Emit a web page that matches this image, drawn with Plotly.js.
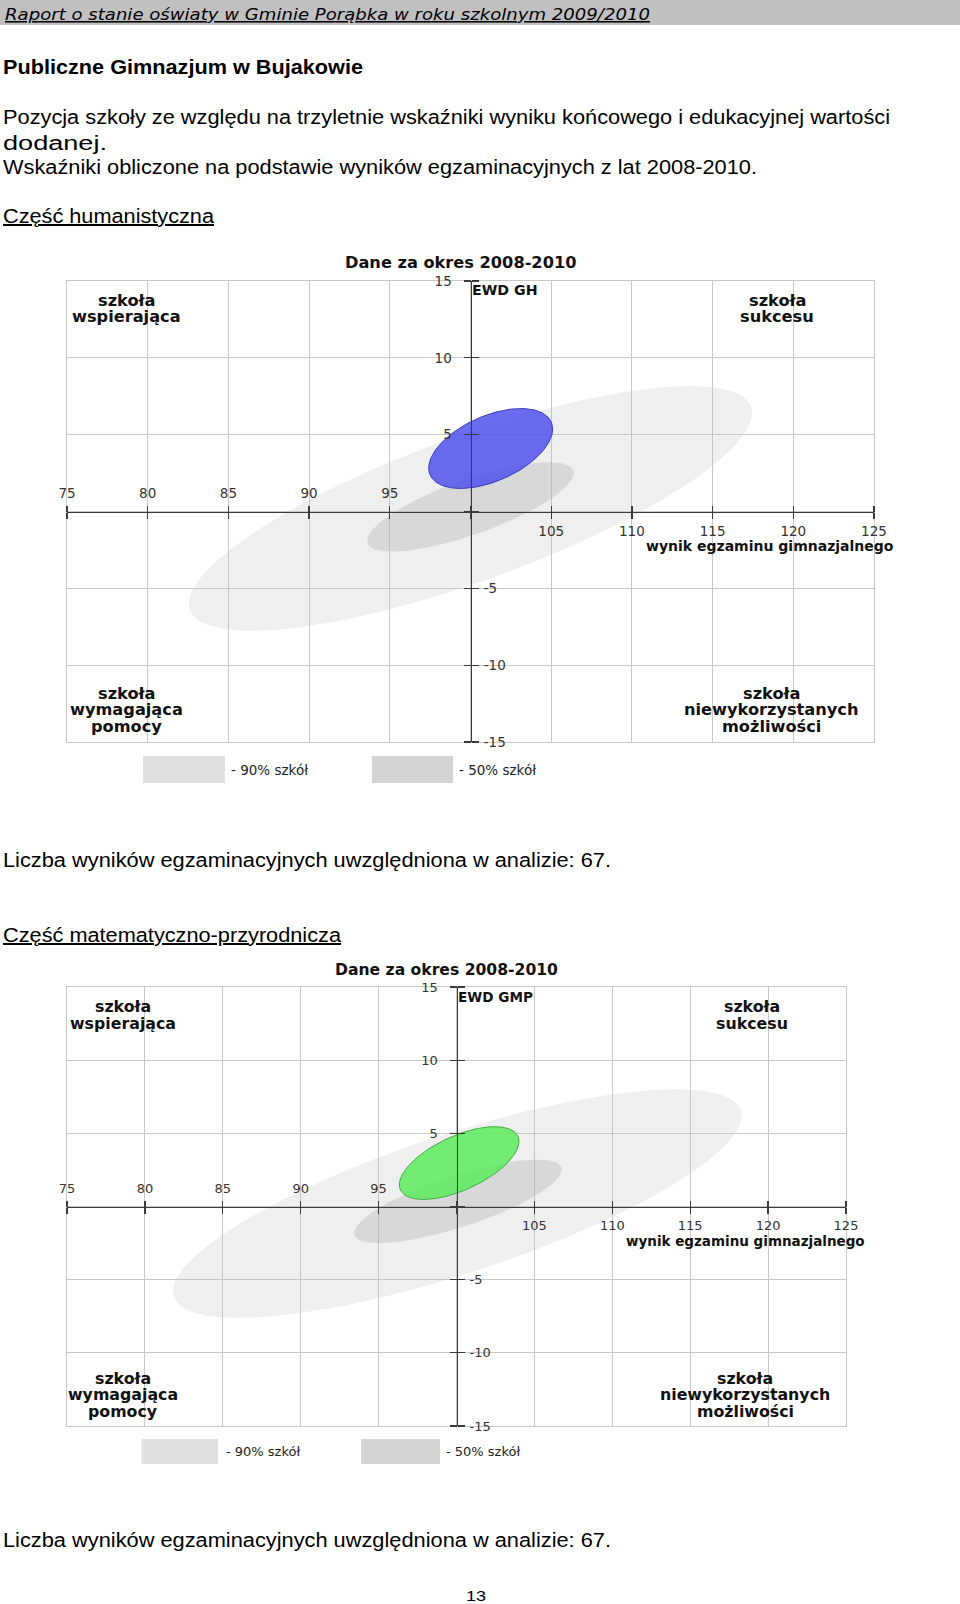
<!DOCTYPE html>
<html>
<head>
<meta charset="utf-8">
<script src="https://cdn.plot.ly/plotly-3.0.1.min.js"></script>
<style>
html,body{margin:0;padding:0;background:#fff;}
#page{position:relative;width:960px;height:1604px;overflow:hidden;background:#fff;}
#bg{position:absolute;left:0;top:0;}
.chart{position:absolute;left:0;width:960px;}
</style>
</head>
<body>
<div id="page">
<svg id="bg" width="960" height="1604" xmlns="http://www.w3.org/2000/svg">
  <rect x="0" y="0" width="960" height="25" fill="#c0c0c0"/>
  <text x="5" y="20" font-family="DejaVu Sans" font-style="italic" font-size="15.5" fill="#000" textLength="645" lengthAdjust="spacingAndGlyphs" text-decoration="underline">Raport o stanie oświaty w Gminie Porąbka w roku szkolnym 2009/2010</text>
  <g font-family="Liberation Sans, Arial, sans-serif" font-size="20" fill="#000">
    <text x="3" y="74" font-weight="bold" textLength="360" lengthAdjust="spacingAndGlyphs">Publiczne Gimnazjum w Bujakowie</text>
    <text x="3" y="124" textLength="887" lengthAdjust="spacingAndGlyphs">Pozycja szkoły ze względu na trzyletnie wskaźniki wyniku końcowego i edukacyjnej wartości</text>
    <text x="3" y="150" textLength="104" lengthAdjust="spacingAndGlyphs">dodanej.</text>
    <text x="3" y="174" textLength="754" lengthAdjust="spacingAndGlyphs">Wskaźniki obliczone na podstawie wyników egzaminacyjnych z lat 2008-2010.</text>
    <text x="3" y="223" textLength="211" lengthAdjust="spacingAndGlyphs" text-decoration="underline">Część humanistyczna</text>
    <text x="3" y="867" textLength="608" lengthAdjust="spacingAndGlyphs">Liczba wyników egzaminacyjnych uwzględniona w analizie: 67.</text>
    <text x="3" y="942" textLength="338" lengthAdjust="spacingAndGlyphs" text-decoration="underline">Część matematyczno-przyrodnicza</text>
    <text x="3" y="1547" textLength="608" lengthAdjust="spacingAndGlyphs">Liczba wyników egzaminacyjnych uwzględniona w analizie: 67.</text>
    <text x="466" y="1601" font-size="15" textLength="20" lengthAdjust="spacingAndGlyphs">13</text>
  </g>
</svg>
<div id="gh" class="chart" style="top:230px;height:580px"></div>
<div id="gmp" class="chart" style="top:940px;height:560px"></div>
</div>
<script>
// ---------- DATA ----------
const xTicks = [75, 80, 85, 90, 95, 100, 105, 110, 115, 120, 125];
const yTicks = [-15, -10, -5, 0, 5, 10, 15];
const xRange = [75, 125];
const yRange = [-15, 15];
const xCross = 100;   // "wynik egzaminu" value where the EWD axis stands
const yCross = 0;     // EWD value where the result axis lies

const chartTitle = 'Dane za okres 2008-2010';
const xAxisTitle = 'wynik egzaminu gimnazjalnego';
const ghAxisTitle = 'EWD GH';
const gmpAxisTitle = 'EWD GMP';

const quadTL = ['szkoła', 'wspierająca'];
const quadTR = ['szkoła', 'sukcesu'];
const quadBL = ['szkoła', 'wymagająca', 'pomocy'];
const quadBR = ['szkoła', 'niewykorzystanych', 'możliwości'];
const legendLabels = ['- 90% szkół', '- 50% szkół'];

// ellipses: [cx, cy, ux, uy, vx, vy]
// outline P(t) = C + U cos t + V sin t  (U, V conjugate semi-diameters, data units)
const gh90 = [100.0, 0.2, 17.45, 6.2, 0, 5.0];
const gh50 = [100.0, 0.3, 6.4, 2.2, 0, 1.9];
const ghSchool = [101.25, 4.1, 3.84, 1.27, 0, 2.27];
const gmp90 = [100.05, 0.2, 18.25, 6.0, 0, 5.0];
const gmp50 = [100.1, 0.35, 6.67, 2.17, 0, 1.85];
const gmpSchool = [100.17, 2.97, 3.84, 1.48, 0, 2.0];

// ---------- helpers ----------
function ellipsePts(p, n) {
  const xs = [], ys = [];
  for (let i = 0; i <= n; i++) {
    const t = 2 * Math.PI * i / n;
    xs.push(p[0] + p[2] * Math.cos(t) + p[4] * Math.sin(t));
    ys.push(p[1] + p[3] * Math.cos(t) + p[5] * Math.sin(t));
  }
  return {x: xs, y: ys};
}
function ellTrace(p, fill, line) {
  const e = ellipsePts(p, 180);
  return {type: 'scatter', mode: 'lines', x: e.x, y: e.y, fill: 'toself',
          fillcolor: fill, line: line, hoverinfo: 'skip', showlegend: false};
}
function ann(g, text, px, py, xanchor, yanchor, font) {
  return {text: text, xref: 'paper', yref: 'paper',
          x: (px - g.ml) / g.pw, y: (g.top + g.mt + g.ph - py) / g.ph,
          xanchor: xanchor, yanchor: yanchor, showarrow: false, font: font, align: 'center'};
}
function rectShape(g, x0, x1, y0, y1, color) {
  return {type: 'rect', xref: 'paper', yref: 'paper',
          x0: (x0 - g.ml) / g.pw, x1: (x1 - g.ml) / g.pw,
          y0: (g.top + g.mt + g.ph - y0) / g.ph, y1: (g.top + g.mt + g.ph - y1) / g.ph,
          fillcolor: color, line: {width: 0}};
}

function buildChart(divId, g, ells, colors, axisTitle) {
  const fs = g.fs;
  const tickFont = {family: 'DejaVu Sans', size: fs.tick, color: '#333'};
  const boldFont = (s) => ({family: 'DejaVu Sans', size: s, color: '#111', weight: 'bold'});
  const axisLine = '#3a3a3a';
  const ypos = (yCross - yRange[0]) / (yRange[1] - yRange[0]);
  const xpos = (xCross - xRange[0]) / (xRange[1] - xRange[0]);
  const leftTxt = xTicks.map(v => v < xCross ? String(v) : '');
  const rightTxt = xTicks.map(v => v > xCross ? String(v) : '');
  const upTxt = yTicks.map(v => v > yCross ? String(v) : '');
  const downTxt = yTicks.map(v => v < yCross ? String(v) : '');

  const traces = [
    ellTrace(ells[0], 'rgba(190,190,190,0.25)', {width: 0, color: 'rgba(0,0,0,0)'}),
    ellTrace(ells[1], 'rgba(170,170,170,0.33)', {width: 0, color: 'rgba(0,0,0,0)'}),
    ellTrace(ells[2], colors.fill, {width: 1, color: colors.line}),
    // empty traces that only bind the crossing axes (x2/y2, x3/y3) into subplots
    {type: 'scatter', mode: 'markers', x: [], y: [], xaxis: 'x2', yaxis: 'y2', hoverinfo: 'skip', showlegend: false},
    {type: 'scatter', mode: 'markers', x: [], y: [], xaxis: 'x3', yaxis: 'y3', hoverinfo: 'skip', showlegend: false}
  ];

  const base = {range: xRange, tickmode: 'array', fixedrange: true, zeroline: false};
  const freeX = Object.assign({}, base, {overlaying: 'x', anchor: 'free', position: ypos,
      tickvals: xTicks, ticks: 'outside', ticklen: 6, tickwidth: 1.3, tickcolor: axisLine,
      showline: true, linecolor: axisLine, linewidth: 1.5, showgrid: false, tickfont: tickFont});
  const freeY = {range: yRange, tickmode: 'array', fixedrange: true, zeroline: false,
      overlaying: 'y', anchor: 'free', position: xpos,
      tickvals: yTicks, ticks: 'outside', ticklen: 7, tickwidth: 1.3, tickcolor: axisLine,
      showline: true, linecolor: axisLine, linewidth: 1.5, showgrid: false, tickfont: tickFont};

  const annotations = [];
  annotations.push(ann(g, chartTitle, g.titleX, g.titleY, 'center', 'middle', boldFont(fs.title)));
  annotations.push(ann(g, axisTitle, g.axTitleX, g.axTitleY, 'left', 'middle', boldFont(fs.axis)));
  annotations.push(ann(g, xAxisTitle, g.xTitleRight, g.xTitleY, 'right', 'middle', boldFont(fs.xtitle)));
  const quads = [[quadTL, g.qTL], [quadTR, g.qTR], [quadBL, g.qBL], [quadBR, g.qBR]];
  quads.forEach(([lines, pos]) => {
    lines.forEach((t, i) => {
      annotations.push(ann(g, t, pos[0], pos[1] + i * g.qStep, 'center', 'middle', boldFont(fs.quad)));
    });
  });
  const shapes = [
    rectShape(g, g.leg[0][0], g.leg[0][1], g.legY[0], g.legY[1], '#e0e0e0'),
    rectShape(g, g.leg[1][0], g.leg[1][1], g.legY[0], g.legY[1], '#d4d4d4')
  ];
  legendLabels.forEach((t, i) => {
    annotations.push(ann(g, t, g.legText[i], (g.legY[0] + g.legY[1]) / 2, 'left', 'middle',
      {family: 'DejaVu Sans', size: fs.legend, color: '#222'}));
  });

  const layout = {
    width: 960, height: g.h,
    margin: {l: g.ml, r: 960 - g.ml - g.pw, t: g.mt, b: g.h - g.mt - g.ph, pad: 0},
    paper_bgcolor: 'rgba(0,0,0,0)', plot_bgcolor: '#ffffff',
    showlegend: false,
    xaxis: Object.assign({}, base, {tickvals: xTicks, showticklabels: false, ticks: '',
      showgrid: true, gridcolor: '#c8c8c8', gridwidth: 1, showline: true, linecolor: '#c8c8c8',
      linewidth: 1, mirror: true}),
    yaxis: {range: yRange, tickmode: 'array', tickvals: yTicks, fixedrange: true, zeroline: false,
      showticklabels: false, ticks: '', showgrid: true, gridcolor: '#c8c8c8', gridwidth: 1,
      showline: true, linecolor: '#c8c8c8', linewidth: 1, mirror: true},
    xaxis2: Object.assign({}, freeX, {side: 'top', ticktext: leftTxt, ticklabelstandoff: g.xStandTop}),
    xaxis3: Object.assign({}, freeX, {side: 'bottom', ticktext: rightTxt, ticklabelstandoff: g.xStandBot}),
    yaxis2: Object.assign({}, freeY, {side: 'left', ticktext: upTxt, ticklabelstandoff: g.yStandL}),
    yaxis3: Object.assign({}, freeY, {side: 'right', ticktext: downTxt, ticklabelstandoff: g.yStandR}),
    annotations: annotations,
    shapes: shapes
  };
  Plotly.newPlot(divId, traces, layout, {staticPlot: true, displayModeBar: false});
}

// ---------- chart 1: część humanistyczna ----------
const g1 = {
  top: 230, h: 580, ml: 67, mt: 51, pw: 807, ph: 461,
  fs: {tick: 13.5, title: 16.2, axis: 14.2, xtitle: 14, quad: 16.2, legend: 13.5},
  titleX: 460, titleY: 262,
  axTitleX: 470, axTitleY: 290,
  xTitleRight: 896, xTitleY: 546,
  qTL: [126, 300], qTR: [777, 300], qBL: [126, 693], qBR: [771, 693], qStep: 16.5,
  leg: [[143, 225], [372, 453]], legY: [756, 783], legText: [229, 457],
  xStandTop: 2, xStandBot: 1, yStandL: 9, yStandR: 2
};
buildChart('gh', g1, [gh90, gh50, ghSchool],
  {fill: 'rgba(81,81,236,0.85)', line: 'rgb(60,60,190)'}, ghAxisTitle);

// ---------- chart 2: część matematyczno-przyrodnicza ----------
const g2 = {
  top: 940, h: 560, ml: 67, mt: 47, pw: 779, ph: 439,
  fs: {tick: 13, title: 15.6, axis: 13.6, xtitle: 13.5, quad: 15.8, legend: 13},
  titleX: 446.5, titleY: 970,
  axTitleX: 456, axTitleY: 997,
  xTitleRight: 867, xTitleY: 1241,
  qTL: [123, 1006.7], qTR: [752, 1006.7], qBL: [123, 1378.3], qBR: [745, 1378.3], qStep: 16.5,
  leg: [[141.5, 218], [361, 440]], legY: [1439, 1464], legText: [224, 444],
  xStandTop: 2, xStandBot: 0, yStandL: 9, yStandR: 2
};
buildChart('gmp', g2, [gmp90, gmp50, gmpSchool],
  {fill: 'rgba(92,235,92,0.85)', line: 'rgb(70,170,70)'}, gmpAxisTitle);
</script>
</body>
</html>
